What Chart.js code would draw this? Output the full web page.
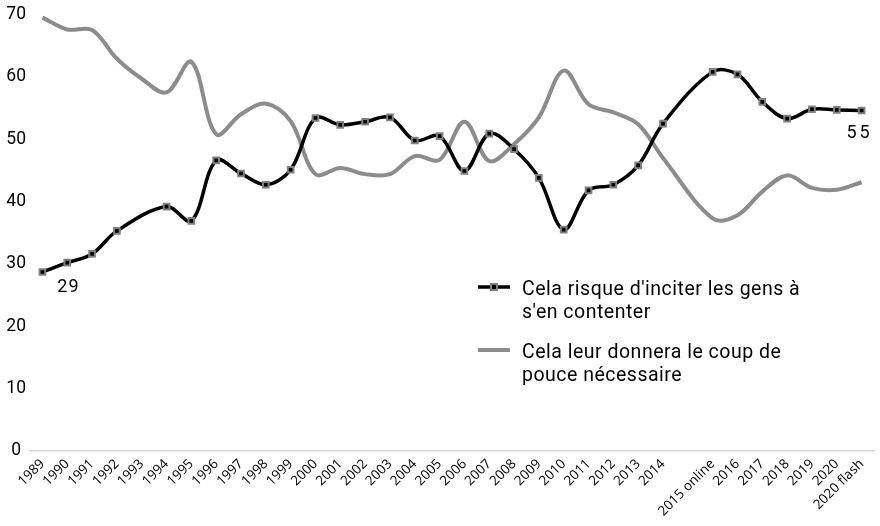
<!DOCTYPE html>
<html>
<head>
<meta charset="utf-8">
<script src="https://cdn.jsdelivr.net/npm/chart.js@4/dist/chart.umd.min.js"></script>
<style>
  html, body { margin: 0; padding: 0; background: #fff; }
  #wrap { width: 880px; height: 526px; position: relative; }
</style>
</head>
<body>
<div id="wrap"><canvas id="myChart"></canvas></div>
<script>
// categories (the empty one is a gap in the source between 2014 and 2015 online)
const years = ['1989', '1990', '1991', '1992', '1993', '1994', '1995', '1996', '1997', '1998',
    '1999', '2000', '2001', '2002', '2003', '2004', '2005', '2006', '2007', '2008',
    '2009', '2010', '2011', '2012', '2013', '2014', '', '2015 online', '2016', '2017',
    '2018', '2019', '2020', '2020 flash'];

// Cela risque d'inciter les gens à s'en contenter
const risque = [28.7, 30.2, 31.6, 35.3, null, 39.2, 36.9, 46.6, 44.5, 42.7,
    45.1, 53.4, 52.3, 52.8, 53.5, 49.8, 50.5, 44.9, 50.9, 48.4,
    43.8, 35.5, 41.8, 42.7, 45.8, 52.5, null, 60.8, 60.4, 56.0,
    53.3, 54.8, 54.7, 54.6];

// Cela leur donnera le coup de pouce nécessaire
const coupDePouce = [69.5, 67.6, 67.5, 62.9, 59.7, 57.5, 62.4, 50.8, 54.0, 55.7,
    52.9, 44.4, 45.4, 44.4, 44.4, 47.3, 46.7, 52.8, 46.5, 49.2,
    53.5, 61.0, 55.6, 54.3, 52.4, 47.0, null, 37.3, 37.8, 41.6,
    44.2, 42.2, 41.9, 43.1];

const serieNames = ["Cela risque d'inciter les gens à|s'en contenter",
    "Cela leur donnera le coup de|pouce nécessaire"];

const yTicks = [0, 10, 20, 30, 40, 50, 60, 70];

const dinFont = 'Roboto, "Noto Sans", sans-serif';

// labels on first and last points + the legend inside the plot
const extras = {
    id: 'extras',
    afterDatasetsDraw(chart) {
        const ctx = chart.ctx;
        const pts = chart.getDatasetMeta(0).data;
        ctx.save();
        ctx.fillStyle = '#000';
        ctx.font = '18px ' + dinFont;
        ctx.textAlign = 'center';
        ctx.textBaseline = 'middle';
        let first = pts[0], last = pts[pts.length - 1];
        ctx.letterSpacing = '1px';
        ctx.fillText(String(Math.round(risque[0])), first.x + 26, first.y + 15);
        ctx.letterSpacing = '3px';
        ctx.fillText(String(Math.round(risque[risque.length - 1])), last.x - 2, last.y + 23);

        // legend
        let lx = 478, ys = [287, 350], base = [295, 358];
        ctx.textAlign = 'left';
        ctx.textBaseline = 'alphabetic';
        ctx.font = '19.5px ' + dinFont;
        ctx.letterSpacing = '0.5px';
        for (let i = 0; i < 2; i++) {
            ctx.lineWidth = i == 0 ? 3.5 : 4;
            ctx.strokeStyle = i == 0 ? '#000' : '#8c8c8c';
            ctx.beginPath();
            ctx.moveTo(lx, ys[i]);
            ctx.lineTo(lx + 32, ys[i]);
            ctx.stroke();
            if (i == 0) {
                ctx.fillStyle = '#808080';
                ctx.fillRect(lx + 12, ys[i] - 4, 8, 8);
                ctx.fillStyle = '#000';
                ctx.fillRect(lx + 14, ys[i] - 2, 4, 4);
            }
            ctx.fillStyle = '#000';
            let lines = serieNames[i].split('|');
            lines.forEach(function (t, k) {
                ctx.fillText(t, lx + 44, base[i] + k * 22.5);
            });
        }
        ctx.restore();
    }
};

const data = {
    labels: years,
    datasets: [
        {
            label: serieNames[0].replace('|', ' '),
            data: risque,
            borderColor: '#000',
            backgroundColor: '#000',
            borderWidth: 3.5,
            pointStyle: 'rect',
            pointRadius: 4,
            pointBorderWidth: 2,
            pointBorderColor: '#808080',
            pointBackgroundColor: '#000',
            tension: 0.35,
            spanGaps: true,
            order: 0
        },
        {
            label: serieNames[1].replace('|', ' '),
            data: coupDePouce,
            borderColor: '#8c8c8c',
            backgroundColor: '#8c8c8c',
            borderWidth: 4,
            pointRadius: 0,
            tension: 0.35,
            spanGaps: true,
            order: 1
        }
    ]
};

const config = {
    type: 'line',
    data: data,
    plugins: [extras],
    options: {
        responsive: false,
        animation: false,
        layout: { padding: { top: 12, right: 2, left: 0, bottom: 0 } },
        plugins: {
            legend: { display: false },
            tooltip: { enabled: false }
        },
        scales: {
            x: {
                offset: true,
                grid: { display: false, drawTicks: false },
                border: { display: true, color: '#d9d9d9', width: 1.5 },
                ticks: {
                    autoSkip: false,
                    minRotation: 45,
                    maxRotation: 45,
                    padding: 5,
                    color: '#000',
                    font: { family: '"Open Sans", sans-serif', size: 13.5 }
                },
                afterFit: function (scale) { scale.height = 75; }
            },
            y: {
                min: 0,
                max: 70,
                grid: { display: false, drawTicks: false },
                border: { display: false },
                afterBuildTicks: function (scale) {
                    scale.ticks = yTicks.map(v => ({ value: v }));
                },
                ticks: {
                    crossAlign: 'center',
                    padding: 4,
                    color: '#000',
                    font: { family: dinFont, size: 17.5 }
                },
                afterFit: function (scale) { scale.width = 30; }
            }
        }
    }
};

const canvas = document.getElementById('myChart');
canvas.width = 880;
canvas.height = 526;
const myChart = new Chart(canvas, config);
</script>
</body>
</html>
